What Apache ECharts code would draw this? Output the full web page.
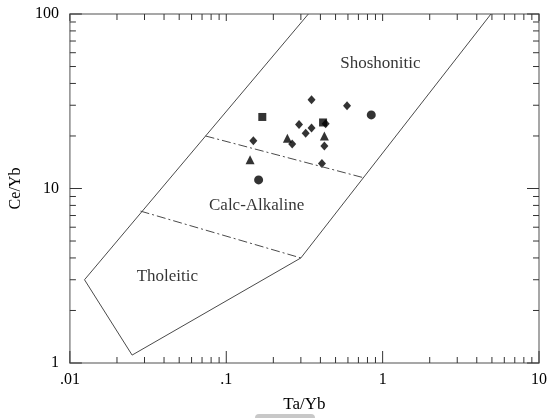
<!DOCTYPE html>
<html lang="en">

<head>
	<meta charset="utf-8">
	<title>Ce/Yb - Ta/Yb</title>
	<script src="https://cdn.jsdelivr.net/npm/echarts@6/dist/echarts.min.js"></script>
	<style>
		html, body { margin: 0; padding: 0; background: #fff; }
		#panel { width: 555px; height: 418px; }
	</style>
</head>

<body>
	<div id="panel"></div>
	<script type="text/javascript">
		// axis ticks and labels
		const xTicks = [0.01, 0.1, 1, 10];
		const xTickLabels = ['.01', '.1', '1', '10'];
		const yTicks = [1, 10, 100];
		const yTickLabels = ['1', '10', '100'];
		const minorSteps = [2, 3, 4, 5, 6, 7, 8, 9];

		// field boundaries
		const boundaryX = [0.335, 0.0124, 0.025, 0.30, 4.93];
		const boundaryY = [100, 3.0, 1.11, 4.0, 100];
		const thCaX = [0.0283, 0.30];
		const thCaY = [7.42, 4.0];
		const caShX = [0.0737, 0.744];
		const caShY = [20.0, 11.57];

		// field names
		const zoneNames = ['Shoshonitic', 'Calc-Alkaline', 'Tholeitic'];
		const zoneX = [0.967, 0.1565, 0.042];
		const zoneY = [52.1, 8.04, 3.145];

		// samples
		const diamondX = [0.351, 0.592, 0.292, 0.351, 0.432, 0.322, 0.149, 0.264, 0.424, 0.409];
		const diamondY = [32.3, 29.8, 23.3, 22.2, 23.5, 20.7, 18.8, 18.0, 17.5, 13.9];
		const squareX = [0.170, 0.416];
		const squareY = [25.7, 23.9];
		const triangleX = [0.424, 0.246, 0.142];
		const triangleY = [20.0, 19.4, 14.6];
		const circleX = [0.846, 0.161];
		const circleY = [26.4, 11.2];

		const zip = (xs, ys) => xs.map((x, i) => [x, ys[i]]);

		// tick marks: [x, y, kind] kind 0 x-major, 1 x-minor, 2 y-major, 3 y-minor
		const tickData = [];
		xTicks.forEach((v, i) => {
			tickData.push([v, 1, 0]);
			if (i < xTicks.length - 1) minorSteps.forEach(m => tickData.push([v * m, 1, 1]));
		});
		yTicks.forEach((v, i) => {
			tickData.push([0.01, v, 2]);
			if (i < yTicks.length - 1) minorSteps.forEach(m => tickData.push([0.01, v * m, 3]));
		});

		const fontFamily = '"Liberation Serif", "DejaVu Serif", serif';
		const lineColor = '#4a4a4a';

		const panel = echarts.init(document.getElementById('panel'));
		let option = {
			backgroundColor: '#fff',
			animation: false,
			grid: {
				left: 64, right: 16, top: 14, bottom: 41,
				show: true, borderColor: '#8a8a8a', borderWidth: 1.5, backgroundColor: 'transparent'
			},
			xAxis: {
				type: 'log', logBase: 10, min: 0.01, max: 10, splitNumber: 3,
				name: 'Ta/Yb', nameLocation: 'middle', nameGap: 33,
				nameTextStyle: { fontFamily: fontFamily, fontSize: 17, color: '#000' },
				axisLine: { show: false }, axisTick: { show: false }, splitLine: { show: false },
				axisLabel: {
					margin: 9, fontFamily: fontFamily, fontSize: 16, color: '#000',
					formatter: v => xTickLabels[Math.round(Math.log10(v)) + 2]
				}
			},
			yAxis: {
				type: 'log', logBase: 10, min: 1, max: 100, splitNumber: 2,
				name: 'Ce/Yb', nameLocation: 'middle', nameGap: 37,
				nameTextStyle: { fontFamily: fontFamily, fontSize: 16, color: '#000' },
				axisLine: { show: false }, axisTick: { show: false }, splitLine: { show: false },
				axisLabel: {
					margin: 11, fontFamily: fontFamily, fontSize: 16, color: '#000',
					formatter: v => yTickLabels[Math.round(Math.log10(v))]
				}
			},
			graphic: [{
				type: 'rect', left: 255, top: 414, shape: { width: 60, height: 8, r: 4 },
				style: { fill: '#c8c8c8' }
			}],
			series: [
				{
					// inward tick marks on all four sides
					type: 'custom', clip: false, silent: true, data: tickData,
					renderItem: (params, api) => {
						const cs = params.coordSys;
						const kind = api.value(2);
						const p = api.coord([api.value(0), api.value(1)]);
						const style = { stroke: '#333', lineWidth: 1 };
						const left = cs.x, right = cs.x + cs.width, top = cs.y, bottom = cs.y + cs.height;
						let lines;
						if (kind < 2) {
							const lb = kind === 0 ? 12 : 6;
							const lt = kind === 0 ? 7 : 6;
							lines = [[p[0], bottom, p[0], bottom - lb], [p[0], top, p[0], top + lt]];
						} else {
							const l = kind === 2 ? 12 : 6;
							lines = [[left, p[1], left + l, p[1]], [right, p[1], right - l, p[1]]];
						}
						return {
							type: 'group',
							children: lines.map(s => ({
								type: 'line', shape: { x1: s[0], y1: s[1], x2: s[2], y2: s[3] }, style: style
							}))
						};
					}
				},
				{
					type: 'line', data: zip(boundaryX, boundaryY), symbol: 'none',
					lineStyle: { color: lineColor, width: 1 }
				},
				{
					type: 'line', data: zip(thCaX, thCaY), symbol: 'none',
					lineStyle: { color: lineColor, width: 1, type: [9, 3, 2, 3] }
				},
				{
					type: 'line', data: zip(caShX, caShY), symbol: 'none',
					lineStyle: { color: lineColor, width: 1, type: [9, 3, 2, 3] }
				},
				{
					type: 'scatter', data: zip(diamondX, diamondY), symbol: 'diamond', symbolSize: [8, 9],
					itemStyle: { color: '#000' }
				},
				{
					type: 'scatter', data: zip(squareX, squareY), symbol: 'rect', symbolSize: 8,
					itemStyle: { color: '#000' }
				},
				{
					type: 'scatter', data: zip(triangleX, triangleY), symbol: 'triangle', symbolSize: 9,
					itemStyle: { color: '#000' }
				},
				{
					type: 'scatter', data: zip(circleX, circleY), symbol: 'circle', symbolSize: 9,
					itemStyle: { color: '#000' }
				},
				{
					// field names
					type: 'scatter', symbolSize: 0, silent: true,
					data: zoneNames.map((n, i) => ({ value: [zoneX[i], zoneY[i]], name: n })),
					label: {
						show: true, position: 'inside', formatter: '{b}',
						fontFamily: fontFamily, fontSize: 17, color: '#000'
					}
				}
			]
		};
		panel.setOption(option);
	</script>
</body>

</html>
